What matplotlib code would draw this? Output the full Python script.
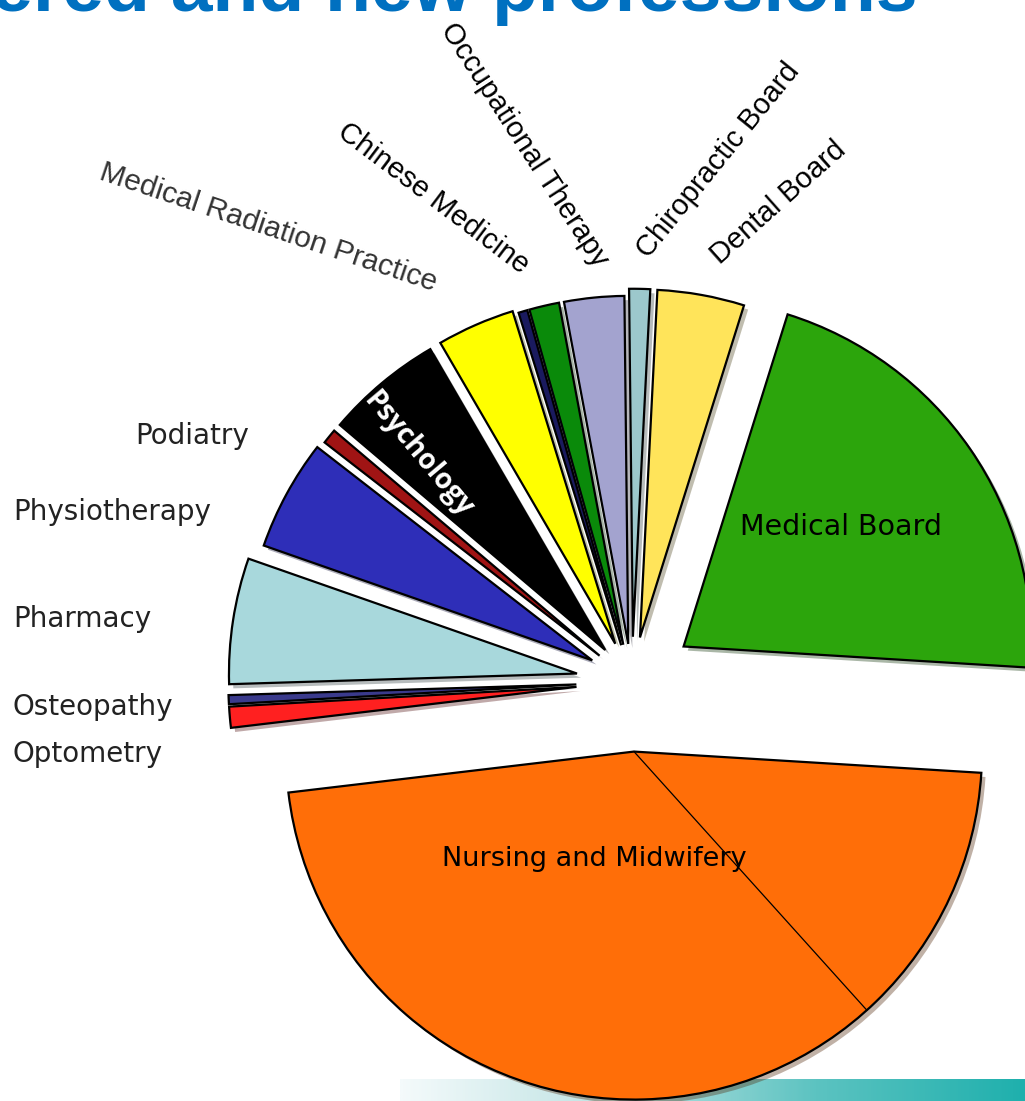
import matplotlib
matplotlib.use("Agg")
import matplotlib.pyplot as plt
import matplotlib.patheffects as pe
import numpy as np
from matplotlib.colors import LinearSegmentedColormap

# data (shares)
professions = ["Medical Board", "Dental Board", "Chiropractic Board", "Occupational Therapy",
               "Chinese Medicine", "", "Medical Radiation Practice", "Psychology", "Podiatry",
               "Physiotherapy", "Pharmacy", "Osteopathy", "Optometry", "Nursing and Midwifery"]
shares = [76, 14.5, 3.5, 10, 5, 1.5, 13, 19.5, 2.5, 18.5, 21, 1.5, 3.5, 169.5]
colors = ["#2ca50c", "#ffe45a", "#9cc8cc", "#a3a3cf", "#0a8a0a", "#1a1a5e", "#ffff00",
          "#000000", "#a01414", "#2e2eb8", "#a8d8dc", "#3a3a8c", "#ff2020", "#ff6e08"]
explode = [0.18, 0.13, 0.13, 0.11, 0.11, 0.11, 0.12, 0.12, 0.12, 0.13, 0.16, 0.16, 0.16, 0.20]

title = "Registered and new professions"

W, H = 1025, 1101
R = 348
fig = plt.figure(figsize=(W / 100, H / 100), dpi=100)

# slide background band at the bottom
bg = fig.add_axes([400 / W, 0, 625 / W, 22 / H], zorder=0)
cmap = LinearSegmentedColormap.from_list("band", ["#f4fafb", "#bfe3e3", "#5cc3c1", "#1fb0ad"])
grad = np.linspace(0, 1, 300)[None, :]
bg.imshow(grad, aspect="auto", cmap=cmap, extent=[0, 1, 0, 1])
bg.axis("off")

ax = fig.add_axes([0, 0, 1, 1], zorder=1)
ax.set_facecolor("none")

# explode in matplotlib is in data units, so scale by the radius
wedges, _ = ax.pie(shares, colors=colors, explode=[e * R for e in explode],
                   startangle=-3.5, counterclock=True, radius=R, center=(632, H - 682),
                   wedgeprops=dict(edgecolor="black", linewidth=1.6))
ax.set_xlim(0, W)
ax.set_ylim(0, H)
ax.set_aspect("equal")
ax.axis("off")
for w in wedges:
    w.set_path_effects([pe.withSimplePatchShadow(offset=(3, -3), alpha=0.35)])

# stray divider line inside the nursing slice
nw = wedges[-1]
a = np.deg2rad(-48)
ax.plot([nw.center[0], nw.center[0] + nw.r * np.cos(a)],
        [nw.center[1], nw.center[1] + nw.r * np.sin(a)], color="black", lw=0.9)

# labels
rot_font = dict(family="Liberation Sans", fontsize=21, color="black",
                ha="center", va="center", rotation_mode="anchor")
ax.text(778, H - 203, "Dental Board", rotation=41.6, **rot_font)
ax.text(718, H - 160, "Chiropractic Board", rotation=51, **rot_font)
ax.text(524, H - 145, "Occupational Therapy", rotation=-57, **rot_font)
ax.text(433, H - 198, "Chinese Medicine", rotation=-37, **rot_font)
ax.text(268, H - 228, "Medical Radiation Practice", rotation=-18.5,
        **{**rot_font, "color": "#333333", "fontsize": 21.5})
ax.text(418, H - 455, "Psychology", rotation=-50, family="Open Sans", fontweight="bold",
        fontsize=20, color="white", ha="center", va="center", rotation_mode="anchor")

left_font = dict(family="DejaVu Sans", fontsize=20, color="#222222", ha="left", va="baseline")
ax.text(135, H - 444, "Podiatry", **left_font)
ax.text(13, H - 520, "Physiotherapy", **left_font)
ax.text(13, H - 627, "Pharmacy", **left_font)
ax.text(13, H - 715, "Osteopathy", **left_font)
ax.text(13, H - 762, "Optometry", **left_font)

ax.text(740, H - 535, "Medical Board", family="DejaVu Sans", fontsize=20.5,
        color="black", ha="left", va="baseline")
ax.text(594, H - 866, "Nursing and Midwifery", family="DejaVu Sans", fontsize=19.5,
        color="black", ha="center", va="baseline")

ax.text(918, H - 11, title, family="Liberation Sans", fontweight="bold", fontsize=54,
        color="#0070c0", ha="right", va="baseline")

fig.savefig("out.png", dpi=100)
